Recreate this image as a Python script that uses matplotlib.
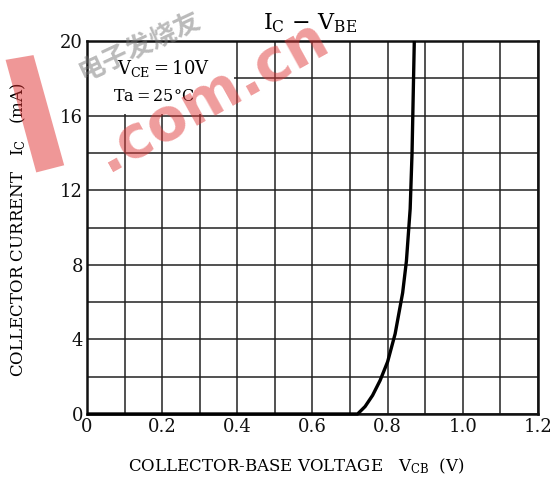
import matplotlib
matplotlib.use("Agg")
import matplotlib.pyplot as plt
from matplotlib.patches import Rectangle, Polygon

# Data
vbe = [0.0, 0.70, 0.72, 0.74, 0.76, 0.78, 0.80, 0.82, 0.84, 0.85, 0.86, 0.865, 0.868, 0.871]
ic = [0.0, 0.0, 0.0, 0.4, 1.0, 1.8, 2.8, 4.3, 6.5, 8.2, 11.0, 14.0, 17.0, 20.0]
xticks = [0, 0.2, 0.4, 0.6, 0.8, 1.0, 1.2]
xticklabels = ["0", "0.2", "0.4", "0.6", "0.8", "1.0", "1.2"]
yticks = [0, 4, 8, 12, 16, 20]
yticklabels = ["0", "4", "8", "12", "16", "20"]

plt.rcParams['font.family'] = ['DejaVu Serif', 'Noto Sans CJK SC']
plt.rcParams['mathtext.fontset'] = 'dejavuserif'

fig = plt.figure(figsize=(5.58, 4.79), dpi=100)
ax = fig.add_axes([0.156, 0.1357, 0.808, 0.7787])

ax.set_xlim(0, 1.2)
ax.set_ylim(0, 20)
ax.set_xticks(xticks)
ax.set_xticklabels(xticklabels, fontsize=13)
ax.set_yticks(yticks)
ax.set_yticklabels(yticklabels, fontsize=13)
ax.set_xticks([i / 10 for i in range(13)], minor=True)
ax.set_yticks(list(range(0, 21, 2)), minor=True)
ax.tick_params(which='both', length=0, pad=3, colors='#111111')
ax.grid(which='both', color='#222222', linewidth=1.1, zorder=1)
for s in ax.spines.values():
    s.set_linewidth(1.8)
    s.set_color('#111111')

# white box for the condition text
ax.add_patch(Rectangle((0, 16.1), 0.39, 3.85, facecolor='white', edgecolor='none', zorder=2))
ax.text(0.08, 18.55, r"V$_{\rm CE}$$=$10V", fontsize=13, zorder=3, va='center')
ax.text(0.07, 17.05, r"Ta$=$25°C", fontsize=11.5, zorder=3, va='center')

ax.plot(vbe, ic, color='black', linewidth=2.4, zorder=4, clip_on=False, solid_capstyle='butt')

fig.text(0.555, 0.952, r"I$_{\rm C}$ $-$ V$_{\rm BE}$", fontsize=16, ha='center', va='center')
fig.text(0.53, 0.027, r"COLLECTOR-BASE VOLTAGE   V$_{\rm CB}$  (V)", fontsize=12, ha='center', va='center')
fig.text(0.032, 0.52, r"COLLECTOR CURRENT   I$_{\rm C}$   (mA)", fontsize=12, ha='center', va='center', rotation=90)

# watermark approximation
fig.patches.append(Polygon([(0.01, 0.875), (0.06, 0.885), (0.115, 0.655), (0.065, 0.64)],
                           closed=True, transform=fig.transFigure, facecolor='#e03030',
                           alpha=0.5, edgecolor='none', zorder=5))
fig.text(0.38, 0.80, ".com.cn", fontsize=42, fontweight='bold', color='#e03a3a', alpha=0.5,
         rotation=29, ha='center', va='center', family='DejaVu Sans', zorder=6)
fig.text(0.251, 0.902, "电子发烧友", fontsize=19, fontweight='bold', color='#777777', alpha=0.5,
         rotation=25, ha='center', va='center', family='Noto Sans CJK SC', zorder=6)

fig.savefig("out.png", dpi=100)
